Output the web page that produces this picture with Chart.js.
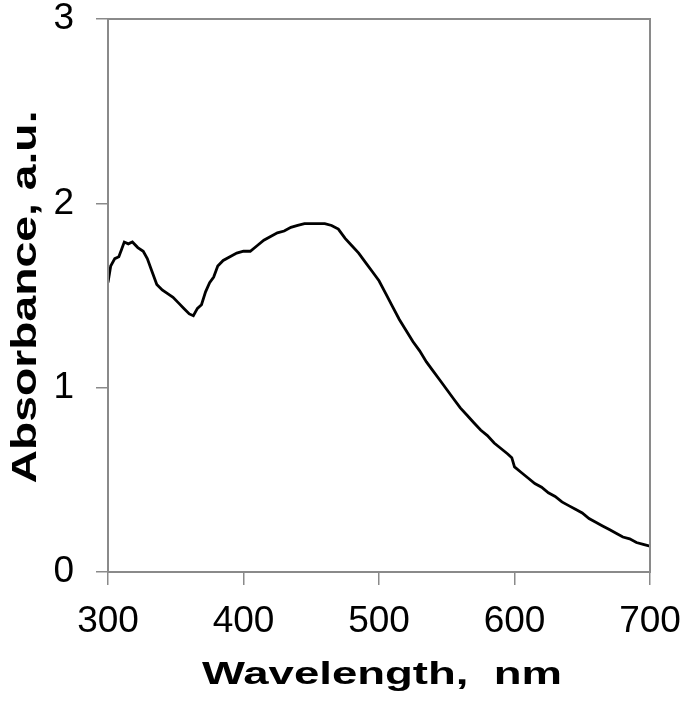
<!DOCTYPE html>
<html>
<head>
<meta charset="utf-8">
<script src="https://cdn.jsdelivr.net/npm/chart.js@4/dist/chart.umd.min.js"></script>
<style>
  html, body { margin: 0; padding: 0; background: #fff; }
  #wrap { width: 685px; height: 704px; }
</style>
</head>
<body>
<div id="wrap"><canvas id="chart" width="685" height="704"></canvas></div>
<script>
// Widmo absorpcji
const wavelengths = [
  300, 302, 305, 308, 310, 312, 315, 318, 322, 326, 329, 332, 336, 340, 344, 348,
  352, 356, 360, 363, 366, 369, 372, 375, 378, 381, 385, 390, 395, 400, 405, 410,
  415, 420, 425, 430, 435, 440, 445, 450, 455, 460, 465, 470, 475, 480, 485, 490,
  495, 500, 505, 510, 515, 520, 525, 530, 535, 540, 545, 550, 555, 560, 565, 570,
  575, 580, 585, 590, 595, 598, 600, 605, 610, 615, 620, 625, 630, 635, 640, 645,
  650, 655, 660, 665, 670, 675, 680, 685, 690, 695, 700
];
const absorbance = [
  1.57, 1.66, 1.70, 1.71, 1.75, 1.79, 1.78, 1.79, 1.76, 1.74, 1.70, 1.64, 1.56, 1.53, 1.51, 1.49,
  1.46, 1.43, 1.40, 1.39, 1.43, 1.45, 1.52, 1.57, 1.60, 1.66, 1.69, 1.71, 1.73, 1.74, 1.74, 1.77,
  1.80, 1.82, 1.84, 1.85, 1.87, 1.88, 1.89, 1.89, 1.89, 1.89, 1.88, 1.86, 1.81, 1.77, 1.73, 1.68,
  1.63, 1.58, 1.51, 1.44, 1.37, 1.31, 1.25, 1.20, 1.14, 1.09, 1.04, 0.99, 0.94, 0.89, 0.85, 0.81,
  0.77, 0.74, 0.70, 0.67, 0.64, 0.62, 0.57, 0.54, 0.51, 0.48, 0.46, 0.43, 0.41, 0.38, 0.36, 0.34,
  0.32, 0.29, 0.27, 0.25, 0.23, 0.21, 0.19, 0.18, 0.16, 0.15, 0.14
];
const xTicks = [300, 400, 500, 600, 700];
const yTicks = [0, 1, 2, 3];
const xTitle = 'Wavelength,  nm';
const yTitle = 'Absorbance, a.u.';

const points = wavelengths.map((w, i) => ({ x: w, y: absorbance[i] }));
const axisGray = '#8a8a8a';

// Ramka wokół obszaru wykresu + rozciągnięte tytuły osi
const framePlugin = {
  id: 'frame',
  afterDraw(chart) {
    const { ctx, chartArea: a } = chart;
    ctx.save();
    ctx.strokeStyle = axisGray;
    ctx.lineWidth = 2;
    ctx.strokeRect(a.left, a.top, a.right - a.left, a.bottom - a.top);

    ctx.fillStyle = '#000';
    ctx.textAlign = 'center';
    ctx.textBaseline = 'alphabetic';

    // tytuł osi X
    ctx.font = 'bold 31px "Liberation Sans", Arial, sans-serif';
    let w = ctx.measureText(xTitle).width;
    ctx.save();
    ctx.translate(382, 684);
    ctx.scale(360 / w, 1);
    ctx.fillText(xTitle, 0, 0);
    ctx.restore();

    // tytuł osi Y
    ctx.font = 'bold 35px "Liberation Sans", Arial, sans-serif';
    w = ctx.measureText(yTitle).width;
    ctx.save();
    ctx.translate(36, 297);
    ctx.rotate(-Math.PI / 2);
    ctx.scale(373 / w, 1);
    ctx.fillText(yTitle, 0, 0);
    ctx.restore();
    ctx.restore();
  }
};

new Chart(document.getElementById('chart'), {
  type: 'line',
  data: {
    datasets: [{
      data: points,
      borderColor: '#000',
      borderWidth: 2.8,
      pointRadius: 0,
      tension: 0,
      fill: false
    }]
  },
  options: {
    responsive: false,
    animation: false,
    layout: { padding: { left: 0, top: 19, right: 35, bottom: 0 } },
    plugins: { legend: { display: false }, tooltip: { enabled: false } },
    scales: {
      x: {
        type: 'linear',
        min: 300,
        max: 700,
        afterBuildTicks: s => { s.ticks = xTicks.map(v => ({ value: v })); },
        afterFit: s => { s.height = 132; s.paddingLeft = 0; s.paddingRight = 0; },
        border: { display: true, color: axisGray, width: 2 },
        grid: { drawOnChartArea: false, drawTicks: true, tickLength: 13, color: axisGray, lineWidth: 1.5 },
        ticks: {
          color: '#000',
          padding: 15,
          maxRotation: 0,
          font: { family: '"Liberation Sans", Arial, sans-serif', size: 37 }
        }
      },
      y: {
        min: 0,
        max: 3,
        afterBuildTicks: s => { s.ticks = yTicks.map(v => ({ value: v })); },
        afterFit: s => { s.width = 108; s.paddingTop = 0; s.paddingBottom = 0; },
        border: { display: true, color: axisGray, width: 2 },
        grid: { drawOnChartArea: false, drawTicks: true, tickLength: 12, color: axisGray, lineWidth: 1.5 },
        ticks: {
          color: '#000',
          padding: 22,
          font: { family: '"Liberation Sans", Arial, sans-serif', size: 37 }
        }
      }
    }
  },
  plugins: [framePlugin]
});
</script>
</body>
</html>
